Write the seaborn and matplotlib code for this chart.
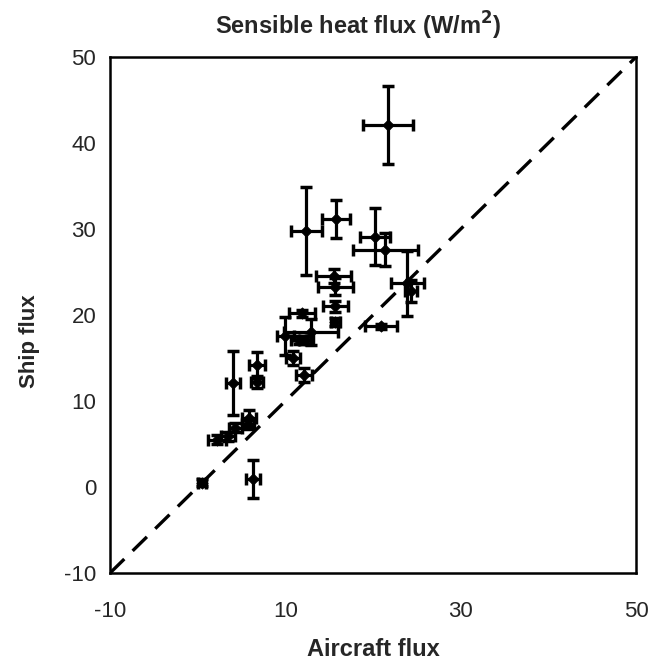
import matplotlib
matplotlib.use("Agg")
import matplotlib.pyplot as plt
import seaborn as sns
import pandas as pd

# Data
aircraft = [21.7, 12.4, 15.8, 20.2, 21.4, 23.9, 24.3, 20.9, 15.5, 15.7, 15.7, 15.7, 11.9, 10.0,
            12.9, 11.5, 12.3, 10.9, 12.1, 4.0, 6.8, 6.8, 5.9, 2.2, 3.5, 4.3, 5.7, 0.5, 6.3]
ship = [42.1, 29.8, 31.2, 29.1, 27.6, 23.7, 22.8, 18.7, 24.5, 23.3, 21.0, 19.2, 20.2, 17.6,
        18.0, 17.1, 17.1, 15.0, 13.0, 12.1, 14.2, 12.2, 8.0, 5.5, 5.9, 6.9, 7.3, 0.5, 0.9]
aircraft_err = [2.9, 1.8, 1.6, 1.7, 3.7, 1.9, 0.7, 1.85, 2.0, 2.0, 1.4, 0.5, 1.5, 1.0,
                3.1, 0.8, 0.8, 0.8, 0.9, 0.8, 0.9, 0.7, 0.8, 1.0, 0.8, 0.7, 0.7, 0.5, 0.8]
ship_err = [4.5, 5.1, 2.2, 3.3, 1.9, 3.8, 1.3, 0.3, 0.8, 1.0, 0.6, 0.5, 0.4, 2.2,
            1.5, 0.5, 0.5, 0.8, 0.8, 3.7, 1.5, 0.7, 1.0, 0.5, 0.5, 0.5, 0.5, 0.4, 2.2]
one_to_one = [-10, 50]
x_ticks = [-10, 10, 30, 50]
y_ticks = [-10, 0, 10, 20, 30, 40, 50]

df = pd.DataFrame({"Aircraft flux": aircraft, "Ship flux": ship,
                   "xerr": aircraft_err, "yerr": ship_err})

sns.set_style("white")
plt.rcParams['font.family'] = ['Liberation Sans', 'DejaVu Sans']
plt.rcParams['axes.unicode_minus'] = False

fig = plt.figure(figsize=(6.51, 6.71), dpi=100)
ax = fig.add_axes([0.169, 0.146, 0.808, 0.769])

# 1:1 line
sns.lineplot(x=one_to_one, y=one_to_one, ax=ax, color="black", lw=2.4,
             linestyle=(0, (6, 3.5)))

ax.errorbar(df["Aircraft flux"], df["Ship flux"], xerr=df["xerr"], yerr=df["yerr"],
            fmt="none", ecolor="black", elinewidth=2.3, capsize=4.2, capthick=2.5, zorder=3)
sns.scatterplot(data=df, x="Aircraft flux", y="Ship flux", ax=ax, marker="D",
                s=34, color="black", edgecolor="black", zorder=4)

ax.set_xlim(-10, 50)
ax.set_ylim(-10, 50)
ax.set_xticks(x_ticks)
ax.set_yticks(y_ticks)
ax.tick_params(axis="x", labelsize=16, length=4, width=1, direction="inout",
               color="black", pad=18)
ax.tick_params(axis="y", labelsize=16, length=4, width=1, direction="inout",
               color="black", pad=8)
for s in ax.spines.values():
    s.set_color("black")
    s.set_linewidth(1.8)

ax.set_xlabel("Aircraft flux", fontsize=17, fontweight="bold", labelpad=12)
ax.set_ylabel("Ship flux", fontsize=16, fontweight="bold")
ax.yaxis.set_label_coords(-0.133, 0.45)
ax.set_title("Sensible heat flux (W/m$^\\mathbf{2}$)", fontsize=17, fontweight="bold",
             pad=16, x=0.471)

fig.savefig("out.png", dpi=100)
